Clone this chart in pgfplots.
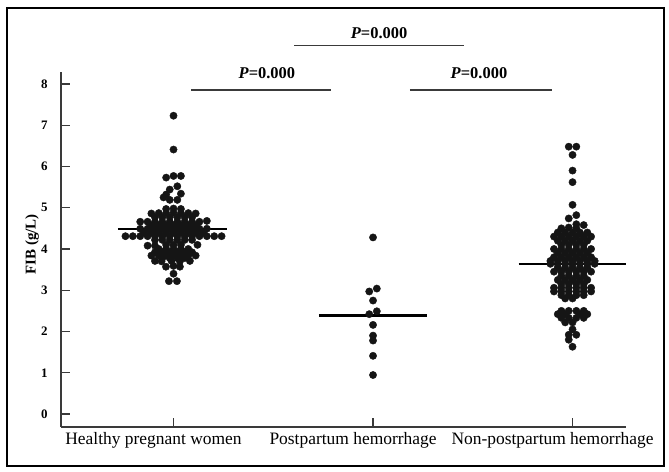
\documentclass[border=0pt]{standalone}
\usepackage{fontspec}
\setmainfont{Liberation Serif}
\usepackage{pgfplots}
\pgfplotsset{compat=1.18}

\definecolor{dotc}{HTML}{151515}
\definecolor{axc}{HTML}{3A3A3A}

\begin{document}
\begin{tikzpicture}[x=1bp,y=1bp]
\useasboundingbox (0,0) rectangle (669,472);
% outer frame of the figure
\draw[line width=1.4bp] (7,6) rectangle (664,464);

\begin{axis}[
	at={(61bp,45bp)}, anchor=south west,
	scale only axis,
	width=565bp, height=355bp,
	xmin=-0.564, xmax=2.268,
	ymin=-0.315, ymax=8.29,
	clip=false,
	axis lines=left,
	axis line style={-, color=axc, line width=1.4bp},
	tick align=inside,
	major tick length=9bp,
	tick style={color=axc, line width=1.2bp},
	xtick={0,1,2},
	xticklabels={Healthy pregnant women, Postpartum hemorrhage, Non-postpartum hemorrhage},
	x tick label style={font=\fontsize{17.5}{18}\selectfont, xshift=-20bp, yshift=-2bp},
	ytick={0,1,...,8},
	/pgf/number format/assume math mode=true,
	y tick label style={font=\bfseries\fontsize{13}{13}\selectfont, xshift=-10bp},
	ylabel={FIB (g/L)},
	every axis y label/.style={at={(axis description cs:-0.051,0.515)}, rotate=90, anchor=center,
		font=\bfseries\fontsize{15}{15}\selectfont},
]

% Healthy pregnant women
\addplot[only marks, mark=*, mark size=3.65bp, color=dotc] coordinates {
(0,7.23) (0,6.41)
(-0.037,5.73) (0,5.77) (0.037,5.77)
(0.019,5.52) (-0.019,5.44)
(-0.037,5.32) (0.037,5.34) (-0.050,5.25)
(-0.019,5.19) (0.019,5.19)
(-0.037,4.97) (0,4.98) (0.037,4.97)
(-0.111,4.86) (-0.074,4.87) (-0.037,4.87) (0,4.88) (0.037,4.87) (0.074,4.87) (0.111,4.86)
(-0.093,4.77) (-0.056,4.77) (-0.019,4.77) (0.019,4.77) (0.056,4.77) (0.093,4.77)
(-0.167,4.66) (-0.130,4.66) (-0.093,4.66) (-0.056,4.66) (-0.019,4.66) (0.019,4.66) (0.056,4.66) (0.093,4.66) (0.130,4.66) (0.167,4.68)
(-0.111,4.57) (-0.074,4.57) (-0.037,4.57) (0,4.57) (0.037,4.57) (0.074,4.57) (0.111,4.57)
(-0.167,4.49) (-0.130,4.49) (-0.093,4.49) (-0.056,4.49) (-0.019,4.49) (0.019,4.49) (0.056,4.49) (0.093,4.49) (0.130,4.49) (0.167,4.49)
(-0.148,4.40) (-0.111,4.40) (-0.074,4.40) (-0.037,4.40) (0,4.40) (0.037,4.40) (0.074,4.40) (0.111,4.40) (0.148,4.40)
(-0.241,4.31) (-0.204,4.31) (-0.167,4.31) (-0.130,4.31) (-0.093,4.31) (-0.056,4.31) (-0.019,4.31) (0.019,4.31) (0.056,4.31) (0.093,4.31) (0.130,4.31) (0.167,4.31) (0.204,4.31) (0.241,4.31)
(-0.093,4.22) (-0.056,4.22) (-0.019,4.22) (0.019,4.22) (0.056,4.22) (0.093,4.22)
(-0.130,4.08) (-0.093,4.08) (-0.037,4.10) (0,4.10) (0.037,4.10) (0.120,4.10)
(-0.074,4.00) (-0.037,4.00) (0,4.00) (0.037,4.00) (0.074,4.00)
(-0.093,3.92) (-0.056,3.92) (-0.019,3.92) (0.019,3.92) (0.056,3.92) (0.093,3.92)
(-0.111,3.84) (-0.074,3.84) (-0.037,3.84) (0,3.84) (0.037,3.84) (0.074,3.84) (0.111,3.84)
(-0.056,3.78) (-0.019,3.78) (0.019,3.78) (0.056,3.78)
(-0.093,3.71) (-0.060,3.70) (-0.010,3.71) (0.032,3.70) (0.082,3.71)
(-0.038,3.57) (0,3.59) (0.032,3.57)
(0,3.40)
(-0.023,3.22) (0.017,3.22)
};

% Postpartum hemorrhage
\addplot[only marks, mark=*, mark size=3.65bp, color=dotc] coordinates {
(1,4.28) (0.981,2.97) (1.019,3.04) (1,2.75) (0.981,2.42) (1.019,2.49)
(1,2.16) (1,1.90) (1,1.78) (1,1.41) (1,0.945)
};

% Non-postpartum hemorrhage
\addplot[only marks, mark=*, mark size=3.65bp, color=dotc] coordinates {
(1.981,6.48) (2.019,6.48) (2,6.28) (2,5.90) (2,5.62) (2,5.07)
(2.019,4.82) (1.981,4.74)
(2.019,4.60) (2.056,4.58)
(1.944,4.50) (1.981,4.52) (2.019,4.50)
(1.926,4.40) (1.963,4.40) (2,4.40) (2.037,4.40) (2.074,4.40)
(1.907,4.30) (1.944,4.30) (1.981,4.30) (2.019,4.30) (2.056,4.30) (2.093,4.30)
(1.926,4.20) (1.963,4.20) (2,4.20) (2.037,4.20) (2.074,4.20)
(1.944,4.10) (1.981,4.10) (2.019,4.10) (2.056,4.10)
(1.907,4.00) (1.944,4.00) (1.981,4.00) (2.019,4.00) (2.056,4.00) (2.093,4.00)
(1.926,3.90) (1.963,3.90) (2,3.90) (2.037,3.90) (2.074,3.90)
(1.907,3.80) (1.944,3.80) (1.981,3.80) (2.019,3.80) (2.056,3.80) (2.093,3.80)
(1.889,3.71) (1.926,3.71) (1.963,3.71) (2,3.71) (2.037,3.71) (2.074,3.71) (2.111,3.71)
(1.889,3.64) (1.926,3.64) (1.963,3.64) (2,3.64) (2.037,3.64) (2.074,3.64) (2.111,3.64)
(1.926,3.55) (1.963,3.55) (2,3.55) (2.037,3.55) (2.074,3.55)
(1.907,3.45) (1.944,3.45) (1.981,3.45) (2.019,3.45) (2.056,3.45) (2.093,3.45)
(1.944,3.35) (1.981,3.35) (2.019,3.35) (2.056,3.35)
(1.926,3.25) (1.963,3.25) (2,3.25) (2.037,3.25) (2.074,3.25)
(1.944,3.15) (1.981,3.15) (2.019,3.15) (2.056,3.15)
(1.907,3.06) (1.944,3.06) (1.981,3.06) (2.019,3.06) (2.056,3.06) (2.093,3.06)
(1.907,2.97) (1.944,2.97) (1.981,2.97) (2.019,2.97) (2.056,2.97) (2.093,2.97)
(1.944,2.88) (1.981,2.88) (2.019,2.88) (2.056,2.88)
(1.963,2.80) (2.000,2.80)
(1.944,2.50) (1.981,2.50) (2.019,2.50) (2.056,2.50)
(1.926,2.42) (1.963,2.42) (2.037,2.42) (2.074,2.42)
(1.944,2.33) (1.981,2.33) (2.019,2.33) (2.056,2.33)
(1.963,2.22) (2.000,2.22)
(2,2.05)
(1.981,1.92) (2.019,1.92)
(1.981,1.80)
(2,1.63)
};

% group means
\draw[line width=2.6bp] (axis cs:-0.279,4.48) -- (axis cs:0.268,4.48);
\draw[line width=2.6bp] (axis cs:0.728,2.39) -- (axis cs:1.270,2.39);
\draw[line width=2.6bp] (axis cs:1.730,3.64) -- (axis cs:2.268,3.64);

% significance bars
\draw[line width=1.6bp, color=axc] (axis cs:0.088,7.85) -- (axis cs:0.789,7.85);
\draw[line width=1.6bp, color=axc] (axis cs:1.185,7.85) -- (axis cs:1.897,7.85);
\draw[line width=1.6bp, color=axc] (axis cs:0.604,8.93) -- (axis cs:1.456,8.93);
\node[font=\bfseries\fontsize{16.5}{17}\selectfont] at (axis cs:0.468,8.26) {\textit{P}=0.000};
\node[font=\bfseries\fontsize{16.5}{17}\selectfont] at (axis cs:1.531,8.26) {\textit{P}=0.000};
\node[font=\bfseries\fontsize{16.5}{17}\selectfont] at (axis cs:1.030,9.24) {\textit{P}=0.000};

\end{axis}
\end{tikzpicture}
\end{document}
